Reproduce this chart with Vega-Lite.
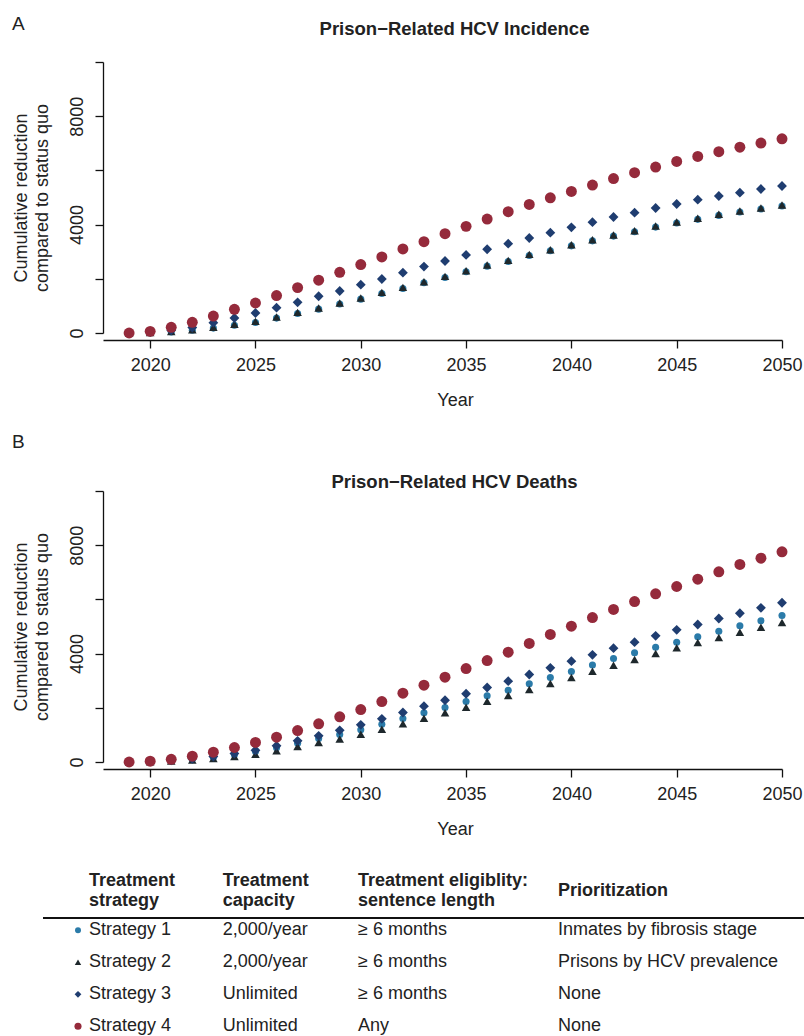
{
  "$schema": "https://vega.github.io/schema/vega-lite/v6.json",
  "background": "white",
  "padding": {"left": 12, "top": 14, "right": 0, "bottom": 0},
  "autosize": {"type": "pad"},
  "spacing": 24,
  "resolve": {"scale": {"size": "independent"}},
  "config": {
    "view": {"stroke": null},
    "font": "Liberation Sans",
    "axis": {
      "domainColor": "#111", "tickColor": "#111", "labelColor": "#222", "titleColor": "#222",
      "labelFont": "Liberation Sans", "titleFont": "Liberation Sans",
      "labelFontSize": 18, "titleFontSize": 18, "titleFontWeight": "normal",
      "grid": false, "tickSize": 8, "domainWidth": 1.3, "tickWidth": 1.3
    },
    "title": {"font": "Liberation Sans", "fontSize": 18, "color": "#222"}
  },
  "datasets": {
    "series": [
      {"panel":"A","strategy":"Strategy 1","year":2019,"value":0},{"panel":"A","strategy":"Strategy 1","year":2020,"value":10},{"panel":"A","strategy":"Strategy 1","year":2021,"value":40},{"panel":"A","strategy":"Strategy 1","year":2022,"value":100},{"panel":"A","strategy":"Strategy 1","year":2023,"value":180},{"panel":"A","strategy":"Strategy 1","year":2024,"value":285},{"panel":"A","strategy":"Strategy 1","year":2025,"value":390},{"panel":"A","strategy":"Strategy 1","year":2026,"value":550},{"panel":"A","strategy":"Strategy 1","year":2027,"value":720},{"panel":"A","strategy":"Strategy 1","year":2028,"value":880},{"panel":"A","strategy":"Strategy 1","year":2029,"value":1070},{"panel":"A","strategy":"Strategy 1","year":2030,"value":1250},{"panel":"A","strategy":"Strategy 1","year":2031,"value":1460},{"panel":"A","strategy":"Strategy 1","year":2032,"value":1645},{"panel":"A","strategy":"Strategy 1","year":2033,"value":1853},{"panel":"A","strategy":"Strategy 1","year":2034,"value":2050},{"panel":"A","strategy":"Strategy 1","year":2035,"value":2257},{"panel":"A","strategy":"Strategy 1","year":2036,"value":2467},{"panel":"A","strategy":"Strategy 1","year":2037,"value":2640},{"panel":"A","strategy":"Strategy 1","year":2038,"value":2860},{"panel":"A","strategy":"Strategy 1","year":2039,"value":3032},{"panel":"A","strategy":"Strategy 1","year":2040,"value":3216},{"panel":"A","strategy":"Strategy 1","year":2041,"value":3400},{"panel":"A","strategy":"Strategy 1","year":2042,"value":3576},{"panel":"A","strategy":"Strategy 1","year":2043,"value":3735},{"panel":"A","strategy":"Strategy 1","year":2044,"value":3908},{"panel":"A","strategy":"Strategy 1","year":2045,"value":4056},{"panel":"A","strategy":"Strategy 1","year":2046,"value":4193},{"panel":"A","strategy":"Strategy 1","year":2047,"value":4340},{"panel":"A","strategy":"Strategy 1","year":2048,"value":4462},{"panel":"A","strategy":"Strategy 1","year":2049,"value":4573},{"panel":"A","strategy":"Strategy 1","year":2050,"value":4684},
      {"panel":"A","strategy":"Strategy 2","year":2019,"value":0},{"panel":"A","strategy":"Strategy 2","year":2020,"value":15},{"panel":"A","strategy":"Strategy 2","year":2021,"value":50},{"panel":"A","strategy":"Strategy 2","year":2022,"value":122},{"panel":"A","strategy":"Strategy 2","year":2023,"value":210},{"panel":"A","strategy":"Strategy 2","year":2024,"value":320},{"panel":"A","strategy":"Strategy 2","year":2025,"value":430},{"panel":"A","strategy":"Strategy 2","year":2026,"value":590},{"panel":"A","strategy":"Strategy 2","year":2027,"value":762},{"panel":"A","strategy":"Strategy 2","year":2028,"value":922},{"panel":"A","strategy":"Strategy 2","year":2029,"value":1110},{"panel":"A","strategy":"Strategy 2","year":2030,"value":1291},{"panel":"A","strategy":"Strategy 2","year":2031,"value":1500},{"panel":"A","strategy":"Strategy 2","year":2032,"value":1685},{"panel":"A","strategy":"Strategy 2","year":2033,"value":1893},{"panel":"A","strategy":"Strategy 2","year":2034,"value":2090},{"panel":"A","strategy":"Strategy 2","year":2035,"value":2297},{"panel":"A","strategy":"Strategy 2","year":2036,"value":2507},{"panel":"A","strategy":"Strategy 2","year":2037,"value":2680},{"panel":"A","strategy":"Strategy 2","year":2038,"value":2900},{"panel":"A","strategy":"Strategy 2","year":2039,"value":3072},{"panel":"A","strategy":"Strategy 2","year":2040,"value":3256},{"panel":"A","strategy":"Strategy 2","year":2041,"value":3440},{"panel":"A","strategy":"Strategy 2","year":2042,"value":3616},{"panel":"A","strategy":"Strategy 2","year":2043,"value":3775},{"panel":"A","strategy":"Strategy 2","year":2044,"value":3948},{"panel":"A","strategy":"Strategy 2","year":2045,"value":4096},{"panel":"A","strategy":"Strategy 2","year":2046,"value":4233},{"panel":"A","strategy":"Strategy 2","year":2047,"value":4380},{"panel":"A","strategy":"Strategy 2","year":2048,"value":4502},{"panel":"A","strategy":"Strategy 2","year":2049,"value":4613},{"panel":"A","strategy":"Strategy 2","year":2050,"value":4724},
      {"panel":"A","strategy":"Strategy 3","year":2019,"value":0},{"panel":"A","strategy":"Strategy 3","year":2020,"value":30},{"panel":"A","strategy":"Strategy 3","year":2021,"value":100},{"panel":"A","strategy":"Strategy 3","year":2022,"value":200},{"panel":"A","strategy":"Strategy 3","year":2023,"value":380},{"panel":"A","strategy":"Strategy 3","year":2024,"value":553},{"panel":"A","strategy":"Strategy 3","year":2025,"value":738},{"panel":"A","strategy":"Strategy 3","year":2026,"value":935},{"panel":"A","strategy":"Strategy 3","year":2027,"value":1133},{"panel":"A","strategy":"Strategy 3","year":2028,"value":1355},{"panel":"A","strategy":"Strategy 3","year":2029,"value":1550},{"panel":"A","strategy":"Strategy 3","year":2030,"value":1785},{"panel":"A","strategy":"Strategy 3","year":2031,"value":1993},{"panel":"A","strategy":"Strategy 3","year":2032,"value":2225},{"panel":"A","strategy":"Strategy 3","year":2033,"value":2450},{"panel":"A","strategy":"Strategy 3","year":2034,"value":2657},{"panel":"A","strategy":"Strategy 3","year":2035,"value":2880},{"panel":"A","strategy":"Strategy 3","year":2036,"value":3090},{"panel":"A","strategy":"Strategy 3","year":2037,"value":3296},{"panel":"A","strategy":"Strategy 3","year":2038,"value":3506},{"panel":"A","strategy":"Strategy 3","year":2039,"value":3702},{"panel":"A","strategy":"Strategy 3","year":2040,"value":3900},{"panel":"A","strategy":"Strategy 3","year":2041,"value":4090},{"panel":"A","strategy":"Strategy 3","year":2042,"value":4280},{"panel":"A","strategy":"Strategy 3","year":2043,"value":4440},{"panel":"A","strategy":"Strategy 3","year":2044,"value":4613},{"panel":"A","strategy":"Strategy 3","year":2045,"value":4760},{"panel":"A","strategy":"Strategy 3","year":2046,"value":4920},{"panel":"A","strategy":"Strategy 3","year":2047,"value":5055},{"panel":"A","strategy":"Strategy 3","year":2048,"value":5177},{"panel":"A","strategy":"Strategy 3","year":2049,"value":5314},{"panel":"A","strategy":"Strategy 3","year":2050,"value":5424},
      {"panel":"A","strategy":"Strategy 4","year":2019,"value":0},{"panel":"A","strategy":"Strategy 4","year":2020,"value":60},{"panel":"A","strategy":"Strategy 4","year":2021,"value":210},{"panel":"A","strategy":"Strategy 4","year":2022,"value":395},{"panel":"A","strategy":"Strategy 4","year":2023,"value":627},{"panel":"A","strategy":"Strategy 4","year":2024,"value":875},{"panel":"A","strategy":"Strategy 4","year":2025,"value":1107},{"panel":"A","strategy":"Strategy 4","year":2026,"value":1380},{"panel":"A","strategy":"Strategy 4","year":2027,"value":1675},{"panel":"A","strategy":"Strategy 4","year":2028,"value":1950},{"panel":"A","strategy":"Strategy 4","year":2029,"value":2240},{"panel":"A","strategy":"Strategy 4","year":2030,"value":2525},{"panel":"A","strategy":"Strategy 4","year":2031,"value":2805},{"panel":"A","strategy":"Strategy 4","year":2032,"value":3100},{"panel":"A","strategy":"Strategy 4","year":2033,"value":3370},{"panel":"A","strategy":"Strategy 4","year":2034,"value":3665},{"panel":"A","strategy":"Strategy 4","year":2035,"value":3935},{"panel":"A","strategy":"Strategy 4","year":2036,"value":4205},{"panel":"A","strategy":"Strategy 4","year":2037,"value":4475},{"panel":"A","strategy":"Strategy 4","year":2038,"value":4745},{"panel":"A","strategy":"Strategy 4","year":2039,"value":4990},{"panel":"A","strategy":"Strategy 4","year":2040,"value":5225},{"panel":"A","strategy":"Strategy 4","year":2041,"value":5460},{"panel":"A","strategy":"Strategy 4","year":2042,"value":5700},{"panel":"A","strategy":"Strategy 4","year":2043,"value":5915},{"panel":"A","strategy":"Strategy 4","year":2044,"value":6125},{"panel":"A","strategy":"Strategy 4","year":2045,"value":6330},{"panel":"A","strategy":"Strategy 4","year":2046,"value":6515},{"panel":"A","strategy":"Strategy 4","year":2047,"value":6690},{"panel":"A","strategy":"Strategy 4","year":2048,"value":6855},{"panel":"A","strategy":"Strategy 4","year":2049,"value":7010},{"panel":"A","strategy":"Strategy 4","year":2050,"value":7165},
      {"panel":"B","strategy":"Strategy 1","year":2019,"value":0},{"panel":"B","strategy":"Strategy 1","year":2020,"value":15},{"panel":"B","strategy":"Strategy 1","year":2021,"value":50},{"panel":"B","strategy":"Strategy 1","year":2022,"value":100},{"panel":"B","strategy":"Strategy 1","year":2023,"value":170},{"panel":"B","strategy":"Strategy 1","year":2024,"value":265},{"panel":"B","strategy":"Strategy 1","year":2025,"value":385},{"panel":"B","strategy":"Strategy 1","year":2026,"value":524},{"panel":"B","strategy":"Strategy 1","year":2027,"value":694},{"panel":"B","strategy":"Strategy 1","year":2028,"value":867},{"panel":"B","strategy":"Strategy 1","year":2029,"value":1015},{"panel":"B","strategy":"Strategy 1","year":2030,"value":1188},{"panel":"B","strategy":"Strategy 1","year":2031,"value":1395},{"panel":"B","strategy":"Strategy 1","year":2032,"value":1605},{"panel":"B","strategy":"Strategy 1","year":2033,"value":1815},{"panel":"B","strategy":"Strategy 1","year":2034,"value":2010},{"panel":"B","strategy":"Strategy 1","year":2035,"value":2232},{"panel":"B","strategy":"Strategy 1","year":2036,"value":2443},{"panel":"B","strategy":"Strategy 1","year":2037,"value":2650},{"panel":"B","strategy":"Strategy 1","year":2038,"value":2886},{"panel":"B","strategy":"Strategy 1","year":2039,"value":3118},{"panel":"B","strategy":"Strategy 1","year":2040,"value":3340},{"panel":"B","strategy":"Strategy 1","year":2041,"value":3580},{"panel":"B","strategy":"Strategy 1","year":2042,"value":3819},{"panel":"B","strategy":"Strategy 1","year":2043,"value":4029},{"panel":"B","strategy":"Strategy 1","year":2044,"value":4236},{"panel":"B","strategy":"Strategy 1","year":2045,"value":4421},{"panel":"B","strategy":"Strategy 1","year":2046,"value":4620},{"panel":"B","strategy":"Strategy 1","year":2047,"value":4826},{"panel":"B","strategy":"Strategy 1","year":2048,"value":5026},{"panel":"B","strategy":"Strategy 1","year":2049,"value":5210},{"panel":"B","strategy":"Strategy 1","year":2050,"value":5406},
      {"panel":"B","strategy":"Strategy 2","year":2019,"value":0},{"panel":"B","strategy":"Strategy 2","year":2020,"value":10},{"panel":"B","strategy":"Strategy 2","year":2021,"value":35},{"panel":"B","strategy":"Strategy 2","year":2022,"value":75},{"panel":"B","strategy":"Strategy 2","year":2023,"value":130},{"panel":"B","strategy":"Strategy 2","year":2024,"value":200},{"panel":"B","strategy":"Strategy 2","year":2025,"value":288},{"panel":"B","strategy":"Strategy 2","year":2026,"value":413},{"panel":"B","strategy":"Strategy 2","year":2027,"value":572},{"panel":"B","strategy":"Strategy 2","year":2028,"value":720},{"panel":"B","strategy":"Strategy 2","year":2029,"value":850},{"panel":"B","strategy":"Strategy 2","year":2030,"value":1026},{"panel":"B","strategy":"Strategy 2","year":2031,"value":1210},{"panel":"B","strategy":"Strategy 2","year":2032,"value":1410},{"panel":"B","strategy":"Strategy 2","year":2033,"value":1616},{"panel":"B","strategy":"Strategy 2","year":2034,"value":1815},{"panel":"B","strategy":"Strategy 2","year":2035,"value":2022},{"panel":"B","strategy":"Strategy 2","year":2036,"value":2244},{"panel":"B","strategy":"Strategy 2","year":2037,"value":2454},{"panel":"B","strategy":"Strategy 2","year":2038,"value":2675},{"panel":"B","strategy":"Strategy 2","year":2039,"value":2897},{"panel":"B","strategy":"Strategy 2","year":2040,"value":3118},{"panel":"B","strategy":"Strategy 2","year":2041,"value":3350},{"panel":"B","strategy":"Strategy 2","year":2042,"value":3572},{"panel":"B","strategy":"Strategy 2","year":2043,"value":3782},{"panel":"B","strategy":"Strategy 2","year":2044,"value":4004},{"panel":"B","strategy":"Strategy 2","year":2045,"value":4214},{"panel":"B","strategy":"Strategy 2","year":2046,"value":4410},{"panel":"B","strategy":"Strategy 2","year":2047,"value":4594},{"panel":"B","strategy":"Strategy 2","year":2048,"value":4790},{"panel":"B","strategy":"Strategy 2","year":2049,"value":4974},{"panel":"B","strategy":"Strategy 2","year":2050,"value":5148},
      {"panel":"B","strategy":"Strategy 3","year":2019,"value":0},{"panel":"B","strategy":"Strategy 3","year":2020,"value":20},{"panel":"B","strategy":"Strategy 3","year":2021,"value":60},{"panel":"B","strategy":"Strategy 3","year":2022,"value":120},{"panel":"B","strategy":"Strategy 3","year":2023,"value":200},{"panel":"B","strategy":"Strategy 3","year":2024,"value":310},{"panel":"B","strategy":"Strategy 3","year":2025,"value":435},{"panel":"B","strategy":"Strategy 3","year":2026,"value":598},{"panel":"B","strategy":"Strategy 3","year":2027,"value":782},{"panel":"B","strategy":"Strategy 3","year":2028,"value":967},{"panel":"B","strategy":"Strategy 3","year":2029,"value":1170},{"panel":"B","strategy":"Strategy 3","year":2030,"value":1373},{"panel":"B","strategy":"Strategy 3","year":2031,"value":1594},{"panel":"B","strategy":"Strategy 3","year":2032,"value":1827},{"panel":"B","strategy":"Strategy 3","year":2033,"value":2060},{"panel":"B","strategy":"Strategy 3","year":2034,"value":2280},{"panel":"B","strategy":"Strategy 3","year":2035,"value":2517},{"panel":"B","strategy":"Strategy 3","year":2036,"value":2750},{"panel":"B","strategy":"Strategy 3","year":2037,"value":2982},{"panel":"B","strategy":"Strategy 3","year":2038,"value":3229},{"panel":"B","strategy":"Strategy 3","year":2039,"value":3476},{"panel":"B","strategy":"Strategy 3","year":2040,"value":3720},{"panel":"B","strategy":"Strategy 3","year":2041,"value":3955},{"panel":"B","strategy":"Strategy 3","year":2042,"value":4200},{"panel":"B","strategy":"Strategy 3","year":2043,"value":4421},{"panel":"B","strategy":"Strategy 3","year":2044,"value":4657},{"panel":"B","strategy":"Strategy 3","year":2045,"value":4878},{"panel":"B","strategy":"Strategy 3","year":2046,"value":5074},{"panel":"B","strategy":"Strategy 3","year":2047,"value":5295},{"panel":"B","strategy":"Strategy 3","year":2048,"value":5490},{"panel":"B","strategy":"Strategy 3","year":2049,"value":5690},{"panel":"B","strategy":"Strategy 3","year":2050,"value":5875},
      {"panel":"B","strategy":"Strategy 4","year":2019,"value":0},{"panel":"B","strategy":"Strategy 4","year":2020,"value":30},{"panel":"B","strategy":"Strategy 4","year":2021,"value":100},{"panel":"B","strategy":"Strategy 4","year":2022,"value":215},{"panel":"B","strategy":"Strategy 4","year":2023,"value":362},{"panel":"B","strategy":"Strategy 4","year":2024,"value":535},{"panel":"B","strategy":"Strategy 4","year":2025,"value":720},{"panel":"B","strategy":"Strategy 4","year":2026,"value":915},{"panel":"B","strategy":"Strategy 4","year":2027,"value":1162},{"panel":"B","strategy":"Strategy 4","year":2028,"value":1410},{"panel":"B","strategy":"Strategy 4","year":2029,"value":1668},{"panel":"B","strategy":"Strategy 4","year":2030,"value":1937},{"panel":"B","strategy":"Strategy 4","year":2031,"value":2232},{"panel":"B","strategy":"Strategy 4","year":2032,"value":2539},{"panel":"B","strategy":"Strategy 4","year":2033,"value":2834},{"panel":"B","strategy":"Strategy 4","year":2034,"value":3129},{"panel":"B","strategy":"Strategy 4","year":2035,"value":3450},{"panel":"B","strategy":"Strategy 4","year":2036,"value":3745},{"panel":"B","strategy":"Strategy 4","year":2037,"value":4052},{"panel":"B","strategy":"Strategy 4","year":2038,"value":4373},{"panel":"B","strategy":"Strategy 4","year":2039,"value":4705},{"panel":"B","strategy":"Strategy 4","year":2040,"value":5011},{"panel":"B","strategy":"Strategy 4","year":2041,"value":5330},{"panel":"B","strategy":"Strategy 4","year":2042,"value":5630},{"panel":"B","strategy":"Strategy 4","year":2043,"value":5920},{"panel":"B","strategy":"Strategy 4","year":2044,"value":6207},{"panel":"B","strategy":"Strategy 4","year":2045,"value":6476},{"panel":"B","strategy":"Strategy 4","year":2046,"value":6745},{"panel":"B","strategy":"Strategy 4","year":2047,"value":7018},{"panel":"B","strategy":"Strategy 4","year":2048,"value":7288},{"panel":"B","strategy":"Strategy 4","year":2049,"value":7520},{"panel":"B","strategy":"Strategy 4","year":2050,"value":7756}
    ],
    "table": [
      {"row":1,"col":1,"strategy":"Strategy 1","text":"Strategy 1"},{"row":1,"col":2,"strategy":"Strategy 1","text":"2,000/year"},{"row":1,"col":3,"strategy":"Strategy 1","text":"≥ 6 months"},{"row":1,"col":4,"strategy":"Strategy 1","text":"Inmates by fibrosis stage"},
      {"row":2,"col":1,"strategy":"Strategy 2","text":"Strategy 2"},{"row":2,"col":2,"strategy":"Strategy 2","text":"2,000/year"},{"row":2,"col":3,"strategy":"Strategy 2","text":"≥ 6 months"},{"row":2,"col":4,"strategy":"Strategy 2","text":"Prisons by HCV prevalence"},
      {"row":3,"col":1,"strategy":"Strategy 3","text":"Strategy 3"},{"row":3,"col":2,"strategy":"Strategy 3","text":"Unlimited"},{"row":3,"col":3,"strategy":"Strategy 3","text":"≥ 6 months"},{"row":3,"col":4,"strategy":"Strategy 3","text":"None"},
      {"row":4,"col":1,"strategy":"Strategy 4","text":"Strategy 4"},{"row":4,"col":2,"strategy":"Strategy 4","text":"Unlimited"},{"row":4,"col":3,"strategy":"Strategy 4","text":"Any"},{"row":4,"col":4,"strategy":"Strategy 4","text":"None"}
    ],
    "header": [
      {"row":0,"col":1,"text":"Treatment\nstrategy"},
      {"row":0,"col":2,"text":"Treatment\ncapacity"},
      {"row":0,"col":3,"text":"Treatment eligiblity:\nsentence length"},
      {"row":0,"col":4,"text":"Prioritization"}
    ]
  },
  "vconcat": [
    {
      "title": {"text": "A", "anchor": "start", "frame": "bounds", "fontSize": 19, "fontWeight": "normal", "baseline": "alphabetic", "offset": -29},
      "vconcat": [
        {
          "width": 679, "height": 271,
          "title": {"text": "Prison−Related HCV Incidence", "fontWeight": "bold", "fontSize": 18.5, "anchor": "middle", "baseline": "alphabetic", "offset": 8, "dx": 12},
          "data": {"name": "series"},
          "transform": [{"filter": "datum.panel === 'A'"}],
          "mark": {"type": "point", "filled": true, "opacity": 1, "strokeWidth": 0},
          "encoding": {
            "x": {"field": "year", "type": "quantitative",
              "scale": {"domain": [2017.76, 2050], "nice": false, "zero": false},
              "axis": {"title": "Year", "values": [2020, 2025, 2030, 2035, 2040, 2045, 2050], "format": "d", "offset": 7, "labelPadding": 8, "titlePadding": 17, "titleX": 352, "labelFlush": false}},
            "y": {"field": "value", "type": "quantitative",
              "scale": {"domain": [0, 10000], "nice": false},
              "axis": {"title": ["Cumulative reduction", "compared to status quo"], "titleLineHeight": 21, "values": [0, 2000, 4000, 6000, 8000, 10000], "format": "d", "labelExpr": "datum.value % 4000 === 0 ? datum.label : ''", "labelAngle": 270, "labelAlign": "center", "labelBaseline": "alphabetic", "labelPadding": 13, "titlePadding": 17}},
            "shape": {"field": "strategy", "type": "nominal", "legend": null, "scale": {"domain": ["Strategy 1", "Strategy 2", "Strategy 3", "Strategy 4"], "range": ["circle", "triangle-up", "diamond", "circle"]}},
            "color": {"field": "strategy", "type": "nominal", "legend": null, "scale": {"domain": ["Strategy 1", "Strategy 2", "Strategy 3", "Strategy 4"], "range": ["#2B7BA9", "#1E282C", "#1F3D70", "#952A3B"]}},
            "size": {"field": "strategy", "type": "nominal", "legend": null, "scale": {"domain": ["Strategy 1", "Strategy 2", "Strategy 3", "Strategy 4"], "range": [50, 120, 36, 66]}}
          }
        }
      ]
    },
    {
      "title": {"text": "B", "anchor": "start", "frame": "bounds", "fontSize": 19, "fontWeight": "normal", "baseline": "alphabetic", "offset": 6},
      "vconcat": [
        {
          "width": 679, "height": 271,
          "title": {"text": "Prison−Related HCV Deaths", "fontWeight": "bold", "fontSize": 18.5, "anchor": "middle", "baseline": "alphabetic", "offset": -16.5, "dx": 12},
          "data": {"name": "series"},
          "transform": [{"filter": "datum.panel === 'B'"}],
          "mark": {"type": "point", "filled": true, "opacity": 1, "strokeWidth": 0},
          "encoding": {
            "x": {"field": "year", "type": "quantitative",
              "scale": {"domain": [2017.76, 2050], "nice": false, "zero": false},
              "axis": {"title": "Year", "values": [2020, 2025, 2030, 2035, 2040, 2045, 2050], "format": "d", "offset": 7, "labelPadding": 8, "titlePadding": 17, "titleX": 352, "labelFlush": false}},
            "y": {"field": "value", "type": "quantitative",
              "scale": {"domain": [0, 10000], "nice": false},
              "axis": {"title": ["Cumulative reduction", "compared to status quo"], "titleLineHeight": 21, "values": [0, 2000, 4000, 6000, 8000, 10000], "format": "d", "labelExpr": "datum.value % 4000 === 0 ? datum.label : ''", "labelAngle": 270, "labelAlign": "center", "labelBaseline": "alphabetic", "labelPadding": 13, "titlePadding": 17}},
            "shape": {"field": "strategy", "type": "nominal", "legend": null, "scale": {"domain": ["Strategy 1", "Strategy 2", "Strategy 3", "Strategy 4"], "range": ["circle", "triangle-up", "diamond", "circle"]}},
            "color": {"field": "strategy", "type": "nominal", "legend": null, "scale": {"domain": ["Strategy 1", "Strategy 2", "Strategy 3", "Strategy 4"], "range": ["#2B7BA9", "#1E282C", "#1F3D70", "#952A3B"]}},
            "size": {"field": "strategy", "type": "nominal", "legend": null, "scale": {"domain": ["Strategy 1", "Strategy 2", "Strategy 3", "Strategy 4"], "range": [50, 120, 36, 66]}}
          }
        }
      ]
    },
    {
      "width": 701, "height": 175,
      "layer": [
        {
          "data": {"values": [{"line": "header rule"}]},
          "mark": {"type": "rule", "color": "#111", "strokeWidth": 2},
          "encoding": {
            "x": {"datum": 0, "type": "quantitative", "scale": {"domain": [0, 1, 2, 3, 4, 5], "range": [-60, -25, 108.7, 244, 444, 701], "nice": false, "zero": false}, "axis": null},
            "x2": {"datum": 5},
            "y": {"datum": 0.5, "type": "quantitative", "scale": {"domain": [0, 0.5, 1, 4], "range": [28.8, 56.1, 68.3, 164.3], "nice": false, "zero": false}, "axis": null}
          }
        },
        {
          "data": {"name": "header"},
          "transform": [{"filter": "datum.col !== 4"}],
          "mark": {"type": "text", "align": "left", "baseline": "middle", "dx": 11, "dy": -10.3, "fontSize": 18, "fontWeight": "bold", "color": "#222", "lineBreak": "\n", "lineHeight": 20.7},
          "encoding": {
            "x": {"field": "col", "type": "quantitative"},
            "y": {"field": "row", "type": "quantitative"},
            "text": {"field": "text"}
          }
        },
        {
          "data": {"name": "header"},
          "transform": [{"filter": "datum.col === 4"}],
          "mark": {"type": "text", "align": "left", "baseline": "middle", "dx": 11, "fontSize": 18, "fontWeight": "bold", "color": "#222"},
          "encoding": {
            "x": {"field": "col", "type": "quantitative"},
            "y": {"field": "row", "type": "quantitative"},
            "text": {"field": "text"}
          }
        },
        {
          "data": {"name": "table"},
          "transform": [{"filter": "datum.col === 1"}],
          "mark": {"type": "point", "filled": true, "opacity": 1, "strokeWidth": 0},
          "encoding": {
            "x": {"field": "col", "type": "quantitative"},
            "y": {"field": "row", "type": "quantitative"},
            "shape": {"field": "strategy", "type": "nominal", "legend": null, "scale": {"domain": ["Strategy 1", "Strategy 2", "Strategy 3", "Strategy 4"], "range": ["circle", "triangle-up", "diamond", "circle"]}},
            "color": {"field": "strategy", "type": "nominal", "legend": null, "scale": {"domain": ["Strategy 1", "Strategy 2", "Strategy 3", "Strategy 4"], "range": ["#2B7BA9", "#1E282C", "#1F3D70", "#952A3B"]}},
            "size": {"field": "strategy", "type": "nominal", "legend": null, "scale": {"domain": ["Strategy 1", "Strategy 2", "Strategy 3", "Strategy 4"], "range": [36, 50, 20, 40]}}
          }
        },
        {
          "data": {"name": "table"},
          "mark": {"type": "text", "align": "left", "baseline": "middle", "dx": 11, "fontSize": 18, "color": "#222"},
          "encoding": {
            "x": {"field": "col", "type": "quantitative"},
            "y": {"field": "row", "type": "quantitative"},
            "text": {"field": "text"}
          }
        }
      ]
    }
  ]
}
